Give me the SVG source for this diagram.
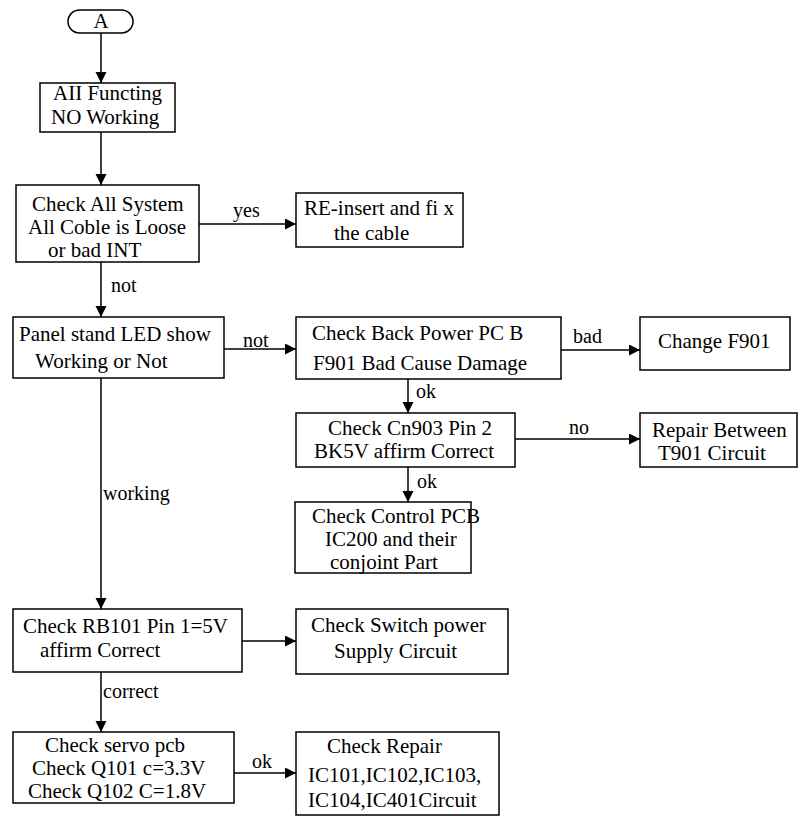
<svg xmlns="http://www.w3.org/2000/svg" width="798" height="816" viewBox="0 0 798 816">
<style>
.b{fill:#fff;stroke:#000;stroke-width:1.5}
.t{font-family:"Liberation Serif","Times New Roman",Times,serif;font-size:21px;fill:#000}
.l{font-family:"Liberation Serif","Times New Roman",Times,serif;font-size:20px;fill:#000}
.c{fill:none;stroke:#000;stroke-width:1.5}
</style>
<defs>
<marker id="ah" markerUnits="userSpaceOnUse" markerWidth="12" markerHeight="12" refX="11" refY="5.5" orient="auto">
<path d="M0,0 L11,5.5 L0,11 z" fill="#000"/>
</marker>
</defs>
<rect width="798" height="816" fill="#fff"/>
<g id="connectors">
<line class="c" x1="101" y1="33" x2="101" y2="83" marker-end="url(#ah)"/>
<line class="c" x1="101" y1="132" x2="101" y2="185" marker-end="url(#ah)"/>
<line class="c" x1="199" y1="224" x2="296" y2="224" marker-end="url(#ah)"/>
<text class="l" x="233" y="217">yes</text>
<line class="c" x1="101" y1="262" x2="101" y2="317" marker-end="url(#ah)"/>
<text class="l" x="111" y="292">not</text>
<line class="c" x1="224" y1="349" x2="296" y2="349" marker-end="url(#ah)"/>
<text class="l" x="243" y="347">not</text>
<line class="c" x1="561" y1="350" x2="640" y2="350" marker-end="url(#ah)"/>
<text class="l" x="573" y="343">bad</text>
<line class="c" x1="408" y1="379" x2="408" y2="413" marker-end="url(#ah)"/>
<text class="l" x="416" y="398">ok</text>
<line class="c" x1="515" y1="439" x2="640" y2="439" marker-end="url(#ah)"/>
<text class="l" x="569" y="434">no</text>
<line class="c" x1="408" y1="467" x2="408" y2="502" marker-end="url(#ah)"/>
<text class="l" x="417" y="488">ok</text>
<line class="c" x1="101" y1="378" x2="101" y2="609" marker-end="url(#ah)"/>
<text class="l" x="103" y="500">working</text>
<line class="c" x1="242" y1="641" x2="296" y2="641" marker-end="url(#ah)"/>
<line class="c" x1="101" y1="672" x2="101" y2="732" marker-end="url(#ah)"/>
<text class="l" x="103" y="698">correct</text>
<line class="c" x1="234" y1="773" x2="296" y2="773" marker-end="url(#ah)"/>
<text class="l" x="252" y="768">ok</text>
</g>
<g id="start">
<rect class="b" x="68" y="10" width="65" height="23" rx="11.5"/>
<text class="t" x="101" y="28" text-anchor="middle">A</text>
</g>
<g id="all-functing">
<rect class="b" x="40" y="83" width="135" height="49"/>
<text class="t" x="53" y="100">AII Functing</text>
<text class="t" x="51" y="124">NO Working</text>
</g>
<g id="check-all-system">
<rect class="b" x="16" y="185" width="183" height="77"/>
<text class="t" x="32" y="211">Check All System</text>
<text class="t" x="28" y="234">All Coble is Loose</text>
<text class="t" x="48" y="257">or bad INT</text>
</g>
<g id="reinsert">
<rect class="b" x="296" y="193" width="167" height="54"/>
<text class="t" x="304" y="215">RE-insert and fi x</text>
<text class="t" x="334" y="240">the cable</text>
</g>
<g id="panel-led">
<rect class="b" x="13" y="317" width="211" height="61"/>
<text class="t" x="19" y="341">Panel stand LED show</text>
<text class="t" x="35" y="368">Working or Not</text>
</g>
<g id="check-back-power">
<rect class="b" x="296" y="317" width="265" height="62"/>
<text class="t" x="312" y="340">Check Back Power PC B</text>
<text class="t" x="313" y="370">F901 Bad Cause Damage</text>
</g>
<g id="change-f901">
<rect class="b" x="640" y="317" width="150" height="53"/>
<text class="t" x="658" y="348">Change F901</text>
</g>
<g id="check-cn903">
<rect class="b" x="296" y="413" width="219" height="54"/>
<text class="t" x="328" y="435">Check Cn903 Pin 2</text>
<text class="t" x="314" y="458">BK5V affirm Correct</text>
</g>
<g id="repair-between">
<rect class="b" x="640" y="413" width="157" height="54"/>
<text class="t" x="652" y="437">Repair Between</text>
<text class="t" x="658" y="460">T901 Circuit</text>
</g>
<g id="check-control">
<rect class="b" x="295" y="502" width="176" height="71"/>
<text class="t" x="312" y="523">Check Control PCB</text>
<text class="t" x="325" y="546">IC200 and their</text>
<text class="t" x="330" y="569">conjoint Part</text>
</g>
<g id="check-rb101">
<rect class="b" x="13" y="609" width="229" height="63"/>
<text class="t" x="23" y="633">Check RB101 Pin 1=5V</text>
<text class="t" x="40" y="657">affirm Correct</text>
</g>
<g id="check-switch">
<rect class="b" x="296" y="609" width="212" height="65"/>
<text class="t" x="311" y="632">Check Switch power</text>
<text class="t" x="334" y="658">Supply Circuit</text>
</g>
<g id="check-servo">
<rect class="b" x="13" y="732" width="221" height="71"/>
<text class="t" x="45" y="752">Check servo pcb</text>
<text class="t" x="32" y="775">Check Q101 c=3.3V</text>
<text class="t" x="28" y="798">Check Q102 C=1.8V</text>
</g>
<g id="check-repair">
<rect class="b" x="296" y="732" width="203" height="83"/>
<text class="t" x="327" y="753">Check Repair</text>
<text class="t" x="308" y="782">IC101,IC102,IC103,</text>
<text class="t" x="308" y="807">IC104,IC401Circuit</text>
</g>
</svg>
